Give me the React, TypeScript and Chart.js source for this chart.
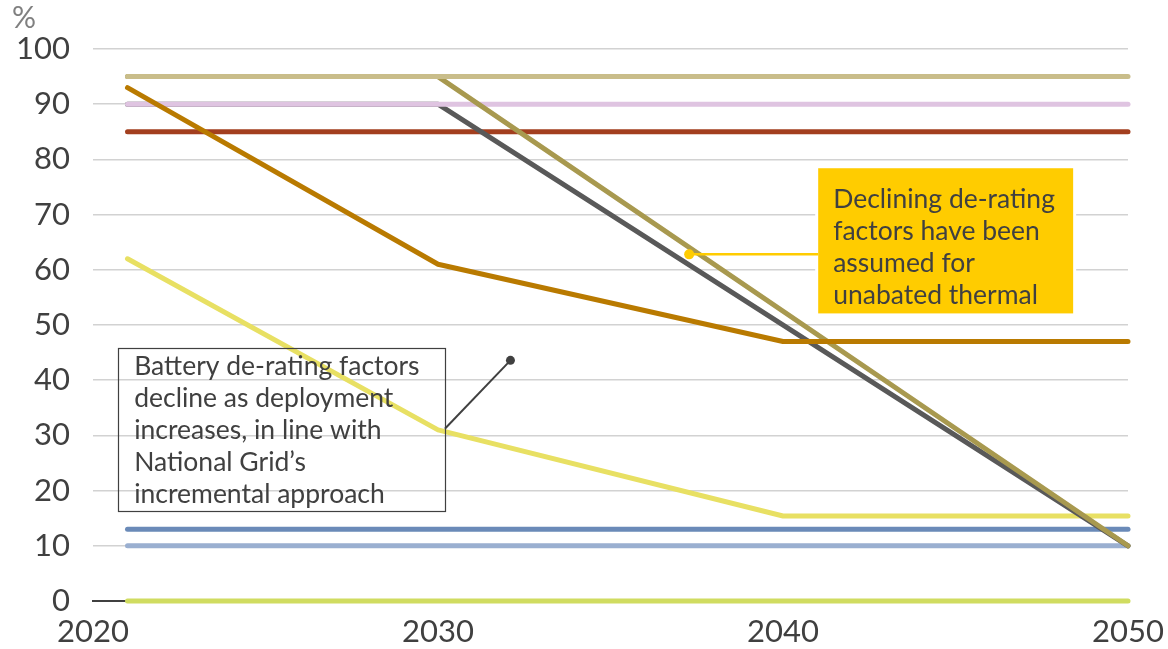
import React, { useEffect, useRef } from "react";
import { Chart, registerables } from "chart.js";

Chart.register(...registerables);

const WIDTH = 1168;
const HEIGHT = 649;
const FONT = "Lato, 'Open Sans', sans-serif";
const TEXT = "#404040";

// Break-point years of the series
const yearsStepped = [2021, 2030, 2040, 2050];
const yearsLinear = [2021, 2030, 2050];

// De-rating factors (%)
const tanValues = [95, 95, 95, 95];
const pinkValues = [90, 90, 90, 90];
const redValues = [85, 85, 85, 85];
const orangeValues = [93, 61, 47, 47];
const greyValues = [90, 90, 10];
const oliveValues = [95, 95, 10];
const yellowValues = [62, 31, 15.4, 15.4];
const blueValues = [13, 13, 13, 13];
const paleBlueValues = [10, 10, 10, 10];
const limeValues = [0, 0, 0, 0];

// Axis ticks
const xTicks = [2020, 2030, 2040, 2050];
const yTicks = [0, 10, 20, 30, 40, 50, 60, 70, 80, 90, 100];

// Callout texts
const batteryNote = [
  "Battery de-rating factors",
  "decline as deployment",
  "increases, in line with",
  "National Grid\u2019s",
  "incremental approach",
];
const thermalNote = [
  "Declining de-rating",
  "factors have been",
  "assumed for",
  "unabated thermal",
];

type Series = { label: string; years: number[]; values: number[]; color: string; order: number };

// lower order is painted on top
const series: Series[] = [
  { label: "tan", years: yearsStepped, values: tanValues, color: "#C9BD8A", order: 2 },
  { label: "olive", years: yearsLinear, values: oliveValues, color: "#A8994F", order: 3 },
  { label: "pink", years: yearsStepped, values: pinkValues, color: "#DFC4E1", order: 4 },
  { label: "grey", years: yearsLinear, values: greyValues, color: "#595959", order: 5 },
  { label: "red", years: yearsStepped, values: redValues, color: "#A33F1F", order: 6 },
  { label: "orange", years: yearsStepped, values: orangeValues, color: "#B97A00", order: 1 },
  { label: "yellow", years: yearsStepped, values: yellowValues, color: "#E8E063", order: 7 },
  { label: "blue", years: yearsStepped, values: blueValues, color: "#6A8AB8", order: 8 },
  { label: "paleBlue", years: yearsStepped, values: paleBlueValues, color: "#9AAFD0", order: 9 },
  { label: "lime", years: yearsStepped, values: limeValues, color: "#D0DC60", order: 0 },
];

// Callout geometry in data units
const batteryBox = { x0: 2020.73, x1: 2030.2, y0: 45.9, y1: 16.4 };
const batteryLeader = { x0: 2030.2, y0: 31.2, x1: 2032.1, y1: 43.6 };
const thermalBox = { x0: 2041.02, x1: 2048.41, y0: 78.4, y1: 52.1 };
const thermalLeader = { x0: 2037.28, y0: 62.8, x1: 2041.02, y1: 62.8 };

const notesPlugin = {
  id: "notes",
  afterDatasetsDraw(chart: any) {
    const { ctx } = chart;
    const x = chart.scales.x;
    const y = chart.scales.y;
    const px = (v: number) => x.getPixelForValue(v);
    const py = (v: number) => y.getPixelForValue(v);
    ctx.save();

    // unit label
    ctx.fillStyle = "#808080";
    ctx.font = `30px ${FONT}`;
    ctx.textAlign = "left";
    ctx.textBaseline = "alphabetic";
    ctx.fillText("%", 12, 28);

    // battery callout (outlined, transparent)
    const bx0 = px(batteryBox.x0), bx1 = px(batteryBox.x1);
    const by0 = py(batteryBox.y0), by1 = py(batteryBox.y1);
    ctx.strokeStyle = TEXT;
    ctx.lineWidth = 1.2;
    ctx.strokeRect(Math.round(bx0) + 0.5, Math.round(by0) + 0.5, Math.round(bx1 - bx0), Math.round(by1 - by0));
    ctx.fillStyle = TEXT;
    ctx.font = `26.5px ${FONT}`;
    batteryNote.forEach((line, i) => ctx.fillText(line, bx0 + 16, by0 + 27 + i * 32));

    ctx.strokeStyle = TEXT;
    ctx.lineWidth = 2;
    ctx.beginPath();
    ctx.moveTo(px(batteryLeader.x0), py(batteryLeader.y0));
    ctx.lineTo(px(batteryLeader.x1), py(batteryLeader.y1));
    ctx.stroke();
    ctx.beginPath();
    ctx.arc(px(batteryLeader.x1), py(batteryLeader.y1), 4.5, 0, Math.PI * 2);
    ctx.fill();

    // thermal callout (filled)
    const tx0 = px(thermalBox.x0), tx1 = px(thermalBox.x1);
    const ty0 = py(thermalBox.y0), ty1 = py(thermalBox.y1);
    ctx.fillStyle = "#FFFFFF";
    ctx.fillRect(tx0 - 3, ty0 - 3, tx1 - tx0 + 6, ty1 - ty0 + 6);
    ctx.fillStyle = "#FFCC00";
    ctx.fillRect(tx0, ty0, tx1 - tx0, ty1 - ty0);
    ctx.fillStyle = TEXT;
    ctx.font = `26.5px ${FONT}`;
    thermalNote.forEach((line, i) => ctx.fillText(line, tx0 + 15, ty0 + 40 + i * 32));

    ctx.strokeStyle = "#FFCC00";
    ctx.fillStyle = "#FFCC00";
    ctx.lineWidth = 2.5;
    ctx.beginPath();
    ctx.moveTo(px(thermalLeader.x0), py(thermalLeader.y0));
    ctx.lineTo(px(thermalLeader.x1), py(thermalLeader.y1));
    ctx.stroke();
    ctx.beginPath();
    ctx.arc(px(thermalLeader.x0), py(thermalLeader.y0), 5, 0, Math.PI * 2);
    ctx.fill();

    ctx.restore();
  },
};

export default function App() {
  const canvasRef = useRef<HTMLCanvasElement | null>(null);

  useEffect(() => {
    let chart: Chart | null = null;
    let cancelled = false;

    const build = () => {
      if (cancelled || !canvasRef.current) return;
      chart = new Chart(canvasRef.current, {
        type: "line",
        data: {
          datasets: series.map((s) => ({
            label: s.label,
            data: s.years.map((yr, i) => ({ x: yr, y: s.values[i] })),
            borderColor: s.color,
            backgroundColor: s.color,
            borderWidth: 5,
            borderCapStyle: "round" as const,
            borderJoinStyle: "round" as const,
            pointRadius: 0,
            pointHoverRadius: 0,
            fill: false,
            tension: 0,
            clip: false as const,
            order: s.order,
          })),
        },
        options: {
          responsive: false,
          animation: false,
          devicePixelRatio: 1,
          layout: { padding: { top: 49, right: 40, left: 0, bottom: 0 } },
          plugins: {
            legend: { display: false },
            tooltip: { enabled: false },
          },
          scales: {
            x: {
              type: "linear",
              min: xTicks[0],
              max: xTicks[xTicks.length - 1],
              afterBuildTicks: (scale: any) => {
                scale.ticks = xTicks.map((v) => ({ value: v }));
              },
              afterFit: (scale: any) => {
                scale.height = 48;
                // end labels may overhang the plot; the outer padding already leaves room
                scale.paddingLeft = 0;
                scale.paddingRight = 0;
              },
              ticks: {
                color: TEXT,
                font: { family: FONT, size: 31 },
                padding: 12,
                maxRotation: 0,
                autoSkip: false,
                callback: (v: any) => String(v),
              },
              grid: { display: false, drawTicks: false },
              border: { display: true, color: TEXT, width: 2 },
            },
            y: {
              type: "linear",
              min: yTicks[0],
              max: yTicks[yTicks.length - 1],
              afterBuildTicks: (scale: any) => {
                scale.ticks = yTicks.map((v) => ({ value: v }));
              },
              afterFit: (scale: any) => {
                scale.width = 93;
                scale.paddingTop = 0;
                scale.paddingBottom = 0;
              },
              ticks: {
                color: TEXT,
                font: { family: FONT, size: 31 },
                padding: 23,
                autoSkip: false,
                callback: (v: any) => String(v),
              },
              grid: {
                drawTicks: false,
                lineWidth: 1.5,
                color: (c: any) => (c.tick && c.tick.value === 0 ? TEXT : "#D2D2D2"),
              },
              border: { display: false },
            },
          },
        },
        plugins: [notesPlugin],
      });
    };

    const fonts = (document as any).fonts;
    if (fonts && fonts.load) {
      Promise.all([fonts.load(`31px Lato`), fonts.load(`26px Lato`)])
        .catch(() => undefined)
        .then(build);
    } else {
      build();
    }

    return () => {
      cancelled = true;
      if (chart) chart.destroy();
    };
  }, []);

  return (
    <div style={{ position: "absolute", left: 0, top: 0, width: WIDTH, height: HEIGHT, background: "#FFFFFF" }}>
      <canvas ref={canvasRef} width={WIDTH} height={HEIGHT} style={{ display: "block" }} />
    </div>
  );
}
